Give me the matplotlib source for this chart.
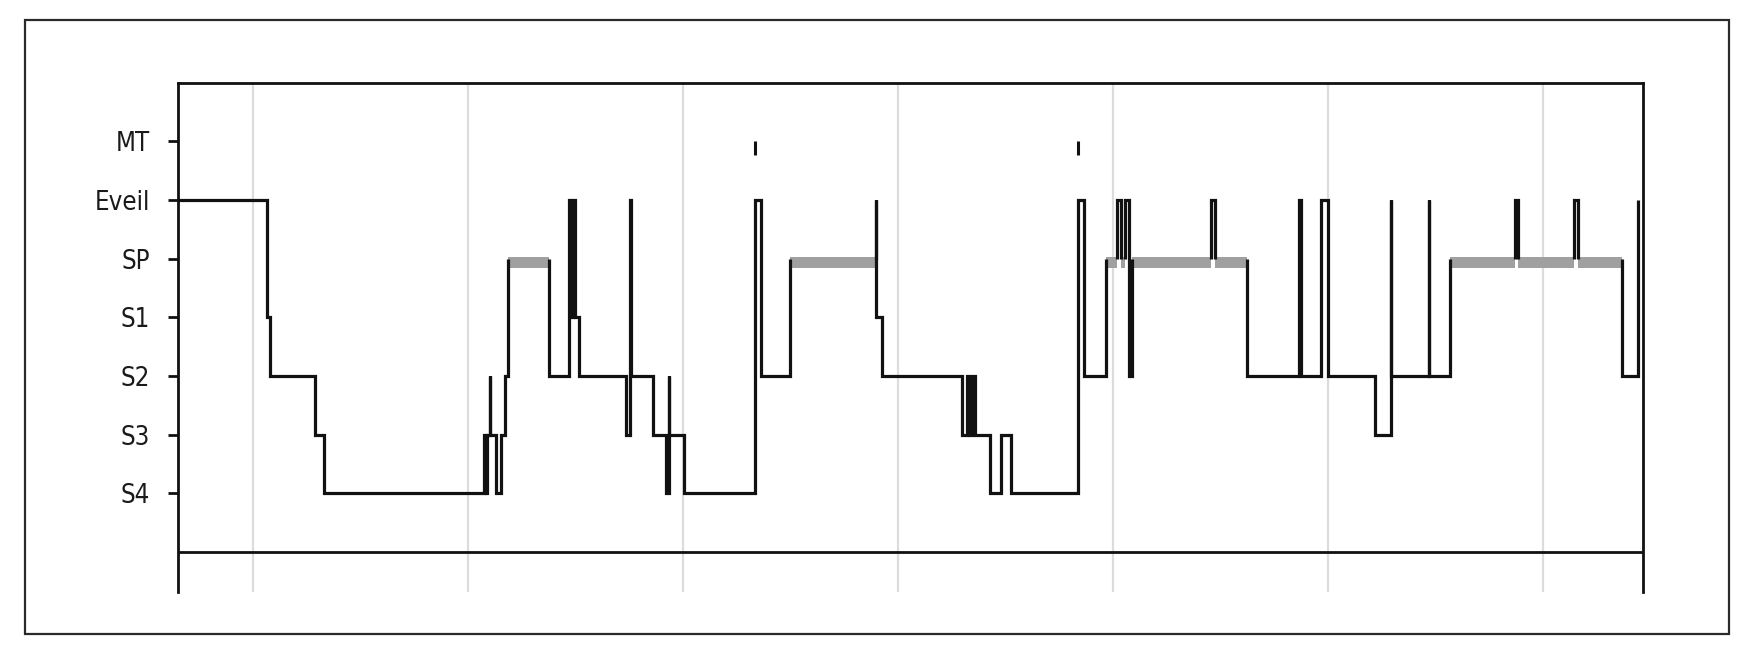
import numpy as np
import matplotlib
matplotlib.use('Agg')
import matplotlib.pyplot as plt
from matplotlib import font_manager
from matplotlib.patches import Rectangle

# sleep stages, bottom to top (index + 1 = level on the y axis)
stage_names = ['S4', 'S3', 'S2', 'S1', 'SP', 'Eveil', 'MT']

# hypnogram: time (minutes from start of recording) at which each stage begins
change_times = [0.0, 25.0, 25.8, 38.3, 40.8, 85.5, 86.0, 86.4, 87.1, 87.3,
                88.8, 90.3, 91.4, 92.3, 103.7, 109.3, 109.8, 110.2, 111.0, 112.0,
                125.2, 126.3, 126.4, 132.8, 136.2, 137.0, 137.2, 141.3, 161.0, 162.8,
                170.9, 194.9, 195.0, 196.7, 218.9, 220.3, 221.0, 221.7, 222.5, 226.8,
                229.8, 232.5, 251.4, 253.0, 259.1, 262.1, 263.2, 264.4, 265.5, 266.3,
                288.4, 289.6, 298.5, 312.9, 313.6, 319.2, 321.0, 334.3, 338.6, 338.8,
                349.3, 349.4, 355.2, 373.2, 374.1, 389.8, 390.8, 403.1, 407.5]
stages = ['Eveil', 'S1', 'S2', 'S3', 'S4', 'S3', 'S4', 'S3', 'S2', 'S3',
          'S4', 'S3', 'S2', 'SP', 'S2', 'Eveil', 'S1', 'Eveil', 'S1', 'S2',
          'S3', 'Eveil', 'S2', 'S3', 'S4', 'S2', 'S3', 'S4', 'Eveil', 'S2',
          'SP', 'Eveil', 'S1', 'S2', 'S3', 'S2', 'S3', 'S2', 'S3', 'S4',
          'S3', 'S4', 'Eveil', 'S2', 'SP', 'Eveil', 'SP', 'Eveil', 'S2', 'SP',
          'Eveil', 'SP', 'S2', 'Eveil', 'S2', 'Eveil', 'S2', 'S3', 'Eveil', 'S2',
          'Eveil', 'S2', 'SP', 'Eveil', 'SP', 'Eveil', 'SP', 'S2', 'Eveil']
end_time = 407.6

# movement time marks
mt_times = [161.0, 251.4]

# hourly vertical guides (minutes)
hour_lines = [21, 81, 141, 201, 261, 321, 381]

x_max = 409.0

# a narrow sans for the stage labels if there is one
installed = {f.name for f in font_manager.fontManager.ttflist}
condensed = [f for f in font_manager.fontManager.ttflist
             if f.name == 'DejaVu Sans' and f.stretch in ('condensed', 'semi-condensed')]
if 'Liberation Sans Narrow' in installed:
    label_font = dict(family='Liberation Sans Narrow', fontsize=20)
elif condensed:
    label_font = dict(family='DejaVu Sans', fontstretch='condensed', fontsize=18.5)
else:
    label_font = dict(family='Liberation Sans', fontsize=19)

W, H = 1752, 654
fig = plt.figure(figsize=(W / 100, H / 100), dpi=100)
fig.patch.set_facecolor('white')

# outer frame
fig.add_artist(Rectangle((25 / W, 1 - 634 / H), (1729 - 25) / W, (634 - 20) / H,
                         transform=fig.transFigure, fill=False,
                         edgecolor='#2a2a2a', linewidth=1.6))

ax = fig.add_axes([177.7 / W, 1 - 592 / H, (1643 - 177.7) / W, (592 - 82.7) / H])

level = {name: i + 1 for i, name in enumerate(stage_names)}
bounds = change_times + [end_time]

# black step line, REM horizontals left out (drawn as grey bars)
xs, ys = [], []
for i, st in enumerate(stages):
    t0, t1 = bounds[i], bounds[i + 1]
    y = level[st]
    if st == 'SP':
        xs += [t0, np.nan, t1]
        ys += [y, np.nan, y]
        ax.fill_between([t0, t1], y - 0.15, y + 0.03, color='#a0a0a0',
                        linewidth=0, zorder=2)
    else:
        xs += [t0, t1]
        ys += [y, y]
ax.plot(xs, ys, color='#111111', linewidth=2.3, solid_joinstyle='miter',
        solid_capstyle='butt', zorder=3)

# movement time
ax.vlines(mt_times, level['MT'] - 0.24, level['MT'], color='#111111',
          linewidth=2.2, zorder=3)

for t in hour_lines:
    ax.axvline(t, color='#dcdcdc', linewidth=1.6, zorder=1)

ax.axhline(0, color='#111111', linewidth=2.0, zorder=3)

ax.set_xlim(0, x_max)
ax.set_ylim(-0.68, 8.0)
ax.set_xticks([])
ax.set_yticks(range(1, len(stage_names) + 1))
ax.set_yticklabels(stage_names, color='#1a1a1a', **label_font)
ax.tick_params(axis='y', direction='out', length=7, width=2.0, pad=13, color='#111111')

ax.spines['bottom'].set_visible(False)
for side in ['left', 'top', 'right']:
    ax.spines[side].set_linewidth(2.0)
    ax.spines[side].set_color('#111111')

fig.savefig('out.png', dpi=100)
